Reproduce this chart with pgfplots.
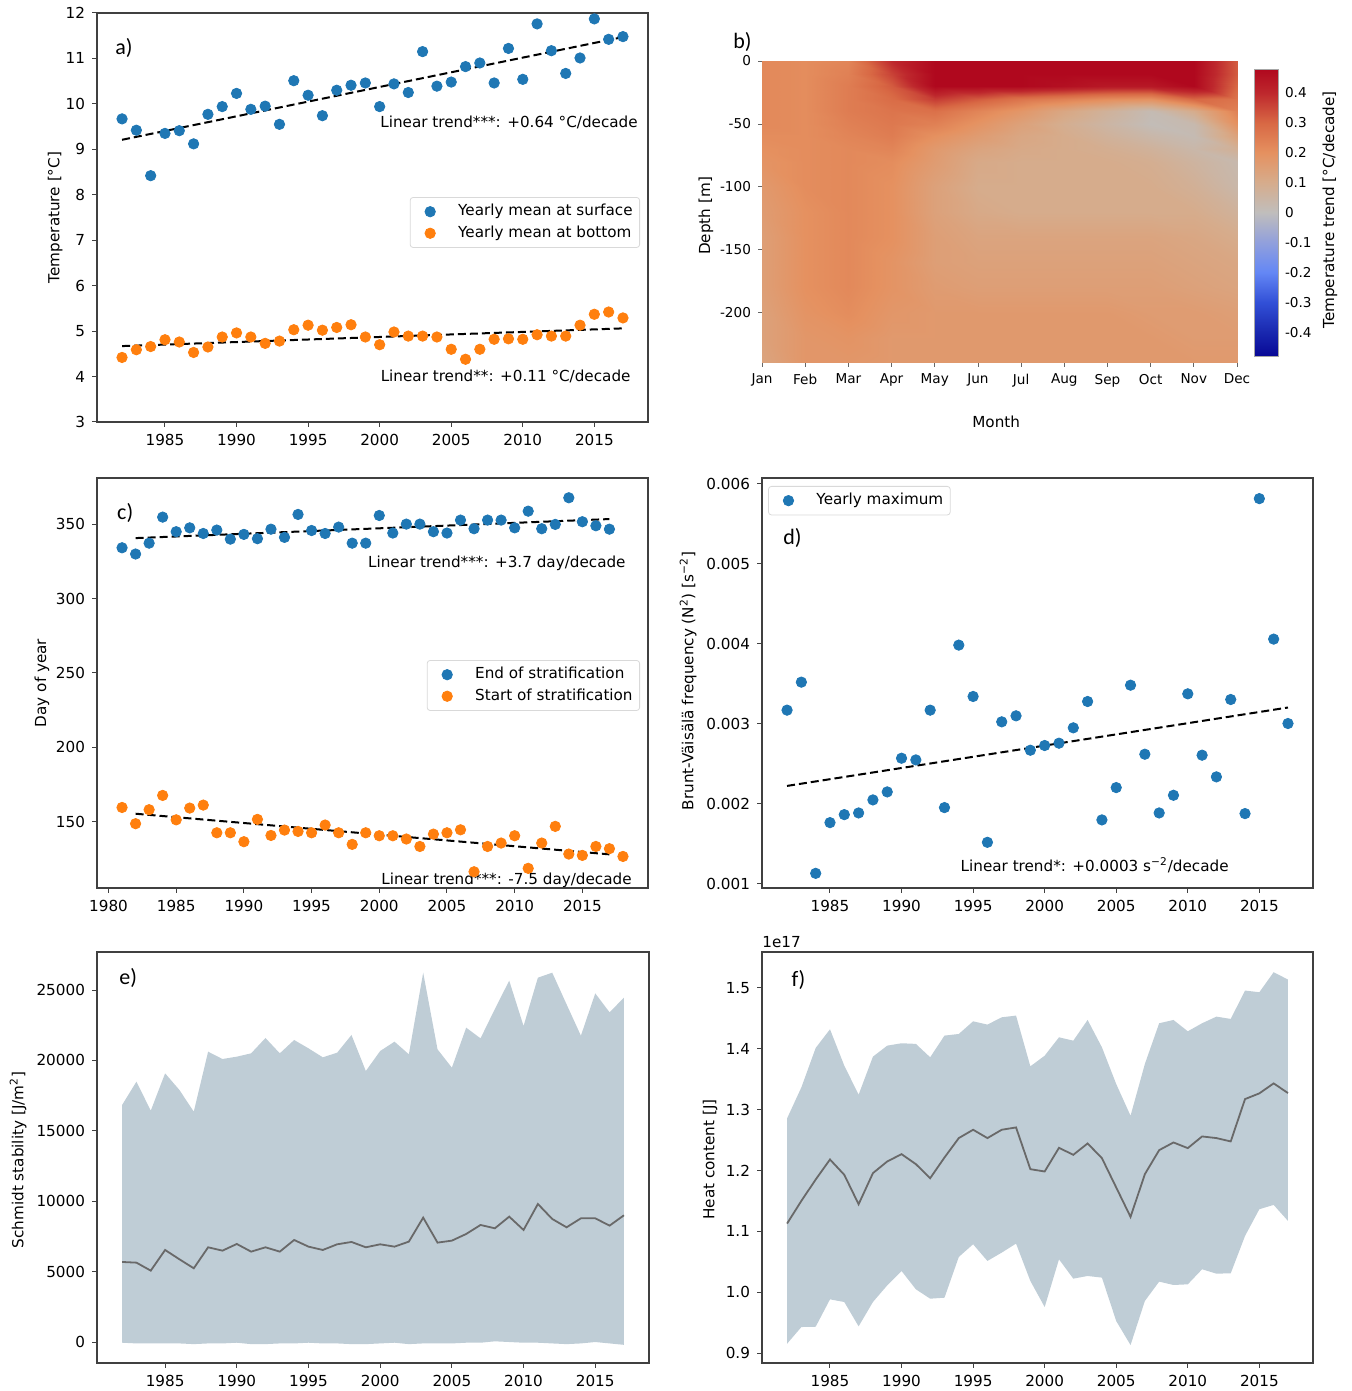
\documentclass[border=0pt]{standalone}
\usepackage{fontspec}
\setmainfont{DejaVu Sans}
\newfontfamily\calib{Carlito}
\usepackage{pgfplots}
\pgfplotsset{compat=1.18}
\usepackage{pgfplotstable}

\newcommand{\fs}{\fontsize{7.6}{9}\selectfont}
\newcommand{\fsb}{\fontsize{6.8}{8}\selectfont}
\newcommand{\pl}{\calib\fontsize{11}{12}\selectfont}

\definecolor{c1}{RGB}{31,119,180}
\definecolor{c2}{RGB}{255,127,14}
\definecolor{bandc}{RGB}{191,205,214}
\definecolor{meanl}{RGB}{105,105,105}

\tikzset{ann/.style={font=\fs, inner sep=0pt}}
\pgfplotsset{
 mpl/.style={
  scale only axis,
  axis line style={black!75, line width=0.6pt},
  tick align=outside, tick pos=left,
  major tick length=2.5pt,
  tick style={black!75, line width=0.5pt},
  ticklabel style={font=\fs},
  label style={font=\fs},
  /pgf/number format/assume math mode=true,
  /pgf/number format/1000 sep={},
  legend style={font=\fs, draw=black!15, rounded corners=1.5pt, inner sep=1.5pt, row sep=-0.5pt, fill=white},
  legend cell align=left,
  xtick={1985,1990,...,2015},
  xmin=1980.25, xmax=2018.75,
 },
 dot/.style={only marks, mark=*, mark size=2.6pt,
   legend image code/.code={\path[draw=none, fill=none] (0pt,0pt) -- (20.5pt,0pt); \draw[##1] plot coordinates {(8.5pt,0pt)};}},
 trend/.style={black, line width=1pt, dash pattern=on 4pt off 2pt, forget plot},
}

\pgfplotstableread{
year surf bot
1982 9.67 4.42
1983 9.42 4.59
1984 8.42 4.66
1985 9.35 4.81
1986 9.41 4.76
1987 9.12 4.53
1988 9.77 4.65
1989 9.94 4.87
1990 10.23 4.96
1991 9.88 4.87
1992 9.95 4.73
1993 9.55 4.78
1994 10.51 5.03
1995 10.19 5.13
1996 9.74 5.02
1997 10.30 5.08
1998 10.41 5.14
1999 10.46 4.87
2000 9.94 4.70
2001 10.44 4.98
2002 10.25 4.89
2003 11.15 4.89
2004 10.39 4.87
2005 10.48 4.60
2006 10.82 4.38
2007 10.90 4.60
2008 10.46 4.82
2009 11.22 4.83
2010 10.54 4.82
2011 11.76 4.92
2012 11.17 4.89
2013 10.67 4.89
2014 11.01 5.13
2015 11.87 5.37
2016 11.42 5.42
2017 11.48 5.29
}\tabA

\pgfplotstableread{
year endS startS
1981 334.1 159.6
1982 329.9 148.7
1983 337.2 158.1
1984 354.7 167.7
1985 344.9 151.3
1986 347.5 159.2
1987 343.7 161.2
1988 346.0 142.6
1989 339.9 142.6
1990 343.1 136.6
1991 340.2 151.6
1992 346.6 140.8
1993 341.1 144.4
1994 356.5 143.5
1995 345.7 142.6
1996 343.7 147.8
1997 348.0 142.6
1998 337.2 134.8
1999 337.2 142.6
2000 355.8 140.6
2001 344.0 140.6
2002 350.0 138.4
2003 350.0 133.4
2004 344.9 141.7
2005 344.0 142.6
2006 352.7 144.6
2007 346.9 116.4
2008 352.7 133.4
2009 352.7 135.7
2010 347.5 140.6
2011 358.7 118.7
2012 346.9 135.7
2013 349.8 146.9
2014 367.7 128.3
2015 351.6 127.4
2016 348.9 133.4
2017 346.6 131.9
2018 nan 126.7
}\tabC

\pgfplotstableread{
year n2
1982 0.003173
1983 0.003523
1984 0.001133
1985 0.001767
1986 0.001867
1987 0.001888
1988 0.002051
1989 0.002151
1990 0.002572
1991 0.002551
1992 0.003173
1993 0.001955
1994 0.003986
1995 0.003344
1996 0.001521
1997 0.003027
1998 0.003102
1999 0.002672
2000 0.002731
2001 0.002760
2002 0.002952
2003 0.003281
2004 0.001801
2005 0.002205
2006 0.003485
2007 0.002622
2008 0.001888
2009 0.002109
2010 0.003377
2011 0.002610
2012 0.002339
2013 0.003306
2014 0.001880
2015 0.005817
2016 0.004061
2017 0.003006
}\tabD

\pgfplotstableread{
year mean
1982 5685
1983 5637
1984 5070
1985 6537
1986 5875
1987 5236
1988 6727
1989 6490
1990 6963
1991 6419
1992 6727
1993 6419
1994 7247
1995 6774
1996 6537
1997 6940
1998 7106
1999 6727
2000 6940
2001 6774
2002 7130
2003 8833
2004 7059
2005 7200
2006 7674
2007 8313
2008 8076
2009 8904
2010 7958
2011 9804
2012 8739
2013 8147
2014 8786
2015 8786
2016 8266
2017 9000
}\tabE

\pgfplotstableread{
year mean
1982 1.1127
1983 1.1500
1984 1.1851
1985 1.2180
1986 1.1928
1987 1.1445
1988 1.1956
1989 1.2148
1990 1.2268
1991 1.2104
1992 1.1873
1993 1.2213
1994 1.2532
1995 1.2669
1996 1.2532
1997 1.2669
1998 1.2707
1999 1.2021
2000 1.1983
2001 1.2372
2002 1.2257
2003 1.2444
2004 1.2202
2005 1.1720
2006 1.1237
2007 1.1939
2008 1.2334
2009 1.2460
2010 1.2367
2011 1.2559
2012 1.2532
2013 1.2477
2014 1.3173
2015 1.3267
2016 1.3431
2017 1.3272
}\tabF

\begin{document}
\begin{tikzpicture}
\path[use as bounding box] (0,0) rectangle (675.5pt,695.5pt);

% ---------------- a) ----------------
\begin{axis}[mpl,
  at={(48.5pt,484.5pt)}, anchor=south west,
  width=275.5pt, height=204.5pt,
  ymin=3, ymax=12, ytick={3,4,...,12},
  ylabel={Temperature [°C]},
  ylabel style={at={(axis description cs:-0.076,0.5)}, anchor=center},
  legend style={at={(0.9855,0.55)}, anchor=north east},
]
\addplot[dot, c1] table[x=year,y=surf]{\tabA};
\addlegendentry{Yearly mean at surface}
\addplot[dot, c2] table[x=year,y=bot]{\tabA};
\addlegendentry{Yearly mean at bottom}
\addplot[trend] coordinates {(1982,9.21) (2017,11.47)};
\addplot[trend] coordinates {(1982,4.67) (2017,5.06)};
\node[ann, anchor=east] at (rel axis cs:0.982,0.7335) {Linear trend***: +0.64 °C/decade};
\node[ann, anchor=east] at (rel axis cs:0.969,0.1125) {Linear trend**: +0.11 °C/decade};
\node[anchor=west, font=\pl, inner sep=0pt] at (rel axis cs:0.0327,0.914) {a)};
\end{axis}

% ---------------- b) ----------------
\begin{axis}[
  at={(381pt,514pt)}, anchor=south west,
  scale only axis, width=237.5pt, height=151pt,
  view={0}{90},
  xmin=0, xmax=11, ymin=-240, ymax=0,
  enlargelimits=false,
  axis line style={draw=none},
  tick align=outside, major tick length=2pt,
  tick style={black!60, line width=0.4pt},
  xtick pos=left, ytick pos=left,
  xtick={0,1,...,11},
  xticklabels={Jan,Feb,Mar,Apr,May,Jun,Jul,Aug,Sep,Oct,Nov,Dec},
  ytick={-200,-150,-100,-50,0},
  ztick=\empty,
  ticklabel style={font=\fsb},
  /pgf/number format/assume math mode=true,
  label style={font=\fs},
  xlabel={Month}, ylabel={Depth [m]},
  xlabel style={at={(axis description cs:0.493,-0.195)}, anchor=center},
  ylabel style={at={(axis description cs:-0.118,0.487)}, anchor=center},
  colormap={trend}{rgb255(0pt)=(8,8,150); rgb255(8pt)=(25,40,175); rgb255(18pt)=(50,80,215); rgb255(28pt)=(100,135,245); rgb255(38pt)=(145,160,220); rgb255(48pt)=(192,190,188); rgb255(58pt)=(214,172,140); rgb255(68pt)=(229,145,96); rgb255(78pt)=(216,104,68); rgb255(88pt)=(190,40,45); rgb255(96pt)=(176,8,30)},
  point meta min=-0.48, point meta max=0.48,
  colorbar,
  colorbar style={
    at={(1.0358,0.9735)}, anchor=north west,
    scale only axis, width=12pt, height=143.5pt,
    ytick={-0.4,-0.3,-0.2,-0.1,0,0.1,0.2,0.3,0.4},
    yticklabels={-0.4,-0.3,-0.2,-0.1,0,0.1,0.2,0.3,0.4},
    yticklabel style={font=\fsb},
    major tick length=0pt,
    axis line style={black!35, line width=0.4pt},
  },
]
\addplot3[surf, shader=interp, mesh/cols=12] coordinates {
(0,0,.22) (1,0,.21) (2,0,.23) (3,0,.40) (4,0,.48) (5,0,.48) (6,0,.48) (7,0,.48) (8,0,.48) (9,0,.48) (10,0,.48) (11,0,.32)
(0,-10,.22) (1,-10,.21) (2,-10,.24) (3,-10,.36) (4,-10,.48) (5,-10,.48) (6,-10,.48) (7,-10,.48) (8,-10,.48) (9,-10,.48) (10,-10,.48) (11,-10,.32)
(0,-20,.22) (1,-20,.21) (2,-20,.25) (3,-20,.32) (4,-20,.48) (5,-20,.48) (6,-20,.48) (7,-20,.46) (8,-20,.44) (9,-20,.44) (10,-20,.48) (11,-20,.30)
(0,-30,.22) (1,-30,.21) (2,-30,.25) (3,-30,.29) (4,-30,.37) (5,-30,.32) (6,-30,.27) (7,-30,.24) (8,-30,.21) (9,-30,.20) (10,-30,.30) (11,-30,.27)
(0,-40,.22) (1,-40,.21) (2,-40,.25) (3,-40,.27) (4,-40,.28) (5,-40,.23) (6,-40,.18) (7,-40,.12) (8,-40,.07) (9,-40,.02) (10,-40,.10) (11,-40,.24)
(0,-50,.22) (1,-50,.21) (2,-50,.24) (3,-50,.26) (4,-50,.24) (5,-50,.19) (6,-50,.14) (7,-50,.09) (8,-50,.05) (9,-50,.01) (10,-50,.03) (11,-50,.20)
(0,-60,.21) (1,-60,.21) (2,-60,.23) (3,-60,.25) (4,-60,.20) (5,-60,.16) (6,-60,.12) (7,-60,.10) (8,-60,.07) (9,-60,.04) (10,-60,.02) (11,-60,.14)
(0,-70,.20) (1,-70,.21) (2,-70,.22) (3,-70,.23) (4,-70,.17) (5,-70,.13) (6,-70,.11) (7,-70,.10) (8,-70,.09) (9,-70,.07) (10,-70,.04) (11,-70,.08)
(0,-80,.19) (1,-80,.21) (2,-80,.22) (3,-80,.21) (4,-80,.16) (5,-80,.11) (6,-80,.10) (7,-80,.10) (8,-80,.10) (9,-80,.09) (10,-80,.06) (11,-80,.03)
(0,-100,.17) (1,-100,.21) (2,-100,.22) (3,-100,.20) (4,-100,.14) (5,-100,.10) (6,-100,.10) (7,-100,.10) (8,-100,.10) (9,-100,.10) (10,-100,.08) (11,-100,.04)
(0,-120,.16) (1,-120,.20) (2,-120,.22) (3,-120,.20) (4,-120,.14) (5,-120,.11) (6,-120,.10) (7,-120,.10) (8,-120,.10) (9,-120,.10) (10,-120,.10) (11,-120,.07)
(0,-140,.15) (1,-140,.20) (2,-140,.22) (3,-140,.20) (4,-140,.15) (5,-140,.13) (6,-140,.13) (7,-140,.13) (8,-140,.13) (9,-140,.13) (10,-140,.12) (11,-140,.10)
(0,-160,.15) (1,-160,.20) (2,-160,.22) (3,-160,.19) (4,-160,.15) (5,-160,.14) (6,-160,.14) (7,-160,.14) (8,-160,.14) (9,-160,.14) (10,-160,.13) (11,-160,.12)
(0,-180,.15) (1,-180,.20) (2,-180,.22) (3,-180,.19) (4,-180,.16) (5,-180,.15) (6,-180,.15) (7,-180,.15) (8,-180,.15) (9,-180,.15) (10,-180,.14) (11,-180,.13)
(0,-200,.14) (1,-200,.19) (2,-200,.21) (3,-200,.18) (4,-200,.17) (5,-200,.17) (6,-200,.17) (7,-200,.17) (8,-200,.17) (9,-200,.16) (10,-200,.16) (11,-200,.15)
(0,-220,.14) (1,-220,.18) (2,-220,.19) (3,-220,.17) (4,-220,.17) (5,-220,.17) (6,-220,.17) (7,-220,.17) (8,-220,.17) (9,-220,.17) (10,-220,.16) (11,-220,.16)
(0,-240,.13) (1,-240,.18) (2,-240,.18) (3,-240,.17) (4,-240,.17) (5,-240,.17) (6,-240,.17) (7,-240,.17) (8,-240,.17) (9,-240,.17) (10,-240,.17) (11,-240,.17)
};
\end{axis}
\node[anchor=west, font=\pl, inner sep=0pt] at (366.5pt,674.5pt) {b)};
\node[rotate=90, font=\fs] at (665pt,590.5pt) {Temperature trend [°C/decade]};

% ---------------- c) ----------------
\begin{axis}[mpl,
  at={(48.5pt,251.5pt)}, anchor=south west,
  width=275.5pt, height=205pt,
  xmin=1979.15, xmax=2019.85, xtick={1980,1985,...,2015},
  ymin=105.5, ymax=381, ytick={150,200,250,300,350},
  ylabel={Day of year},
  ylabel style={at={(axis description cs:-0.0998,0.5)}, anchor=center},
  legend style={at={(0.9855,0.556)}, anchor=north east},
]
\addplot[dot, c1] table[x=year,y=endS]{\tabC};
\addlegendentry{End of stratification}
\addplot[dot, c2] table[x=year,y=startS]{\tabC};
\addlegendentry{Start of stratification}
\addplot[trend] coordinates {(1982,340.6) (2017,353.4)};
\addplot[trend] coordinates {(1982,155.4) (2017,128.1)};
\node[ann, anchor=east] at (rel axis cs:0.960,0.7927) {Linear trend***: +3.7 day/decade};
\node[ann, anchor=east] at (rel axis cs:0.971,0.0195) {Linear trend***: -7.5 day/decade};
\node[anchor=west, font=\pl, inner sep=0pt] at (rel axis cs:0.036,0.915) {c)};
\end{axis}

% ---------------- d) ----------------
\begin{axis}[mpl,
  at={(381pt,251.5pt)}, anchor=south west,
  width=275.5pt, height=205pt,
  ymin=0.00095, ymax=0.006075,
  ytick={0.001,0.002,0.003,0.004,0.005,0.006},
  scaled y ticks=false,
  yticklabel style={/pgf/number format/fixed, /pgf/number format/fixed zerofill, /pgf/number format/precision=3},
  ylabel={Brunt-Väisälä frequency (N\textsuperscript{2}) [s\textsuperscript{−2}]},
  ylabel style={at={(axis description cs:-0.134,0.505)}, anchor=center},
  legend style={at={(0.011,0.9805)}, anchor=north west},
]
\addplot[dot, c1] table[x=year,y=n2]{\tabD};
\addlegendentry{Yearly maximum}
\addplot[trend] coordinates {(1982,0.002226) (2017,0.003206)};
\node[ann, anchor=east] at (rel axis cs:0.8475,0.056) {Linear trend*: +0.0003 s\textsuperscript{−2}/decade};
\node[anchor=west, font=\pl, inner sep=0pt] at (rel axis cs:0.038,0.854) {d)};
\end{axis}

% ---------------- e) ----------------
\begin{axis}[mpl,
  at={(48.5pt,14pt)}, anchor=south west,
  width=276pt, height=205.5pt,
  ymin=-1490, ymax=27700,
  ytick={0,5000,10000,15000,20000,25000},
  scaled y ticks=false,
  ylabel={Schmidt stability [J/m\textsuperscript{2}]},
  ylabel style={at={(axis description cs:-0.143,0.494)}, anchor=center},
]
\addplot[fill=bandc, draw=none, forget plot] coordinates {
(1982,16833) (1983,18491) (1984,16431) (1985,19082) (1986,17899) (1987,16360) (1988,20621) (1989,20100) (1990,20266) (1991,20503) (1992,21592) (1993,20503) (1994,21450) (1995,20858) (1996,20219) (1997,20550) (1998,21805) (1999,19248) (2000,20668) (2001,21331) (2002,20432) (2003,26231) (2004,20787) (2005,19485) (2006,22325) (2007,21568) (2008,23651) (2009,25663) (2010,22444) (2011,25876) (2012,26231) (2013,23982) (2014,21757) (2015,24763) (2016,23414) (2017,24456)
(2017,-200) (2016,-100) (2015,0) (2014,-100) (2013,-150) (2012,-100) (2011,-50) (2010,-50) (2009,0) (2008,50) (2007,-50) (2006,-50) (2005,-100) (2004,-100) (2003,-100) (2002,-150) (2001,-50) (2000,-100) (1999,-150) (1998,-150) (1997,-100) (1996,-100) (1995,-50) (1994,-100) (1993,-100) (1992,-150) (1991,-150) (1990,-50) (1989,-100) (1988,-100) (1987,-150) (1986,-100) (1985,-100) (1984,-100) (1983,-100) (1982,-50)
} -- cycle;
\addplot[meanl, line width=0.9pt] table[x=year,y=mean]{\tabE};
\node[anchor=west, font=\pl, inner sep=0pt] at (rel axis cs:0.040,0.937) {e)};
\end{axis}

% ---------------- f) ----------------
\begin{axis}[mpl,
  at={(381pt,14pt)}, anchor=south west,
  width=275.5pt, height=205.5pt,
  ymin=0.8836, ymax=1.559,
  ytick={0.9,1.0,1.1,1.2,1.3,1.4,1.5},
  scaled y ticks=false,
  yticklabel style={/pgf/number format/fixed, /pgf/number format/fixed zerofill, /pgf/number format/precision=1},
  ylabel={Heat content [J]},
  ylabel style={at={(axis description cs:-0.094,0.495)}, anchor=center},
]
\addplot[fill=bandc, draw=none, forget plot] coordinates {
(1982,1.2855) (1983,1.3365) (1984,1.4013) (1985,1.4320) (1986,1.3722) (1987,1.3245) (1988,1.3870) (1989,1.4051) (1990,1.4090) (1991,1.4080) (1992,1.3860) (1993,1.4216) (1994,1.4243) (1995,1.4451) (1996,1.4397) (1997,1.4517) (1998,1.4545) (1999,1.3711) (2000,1.3886) (2001,1.4188) (2002,1.4133) (2003,1.4473) (2004,1.4024) (2005,1.3420) (2006,1.2899) (2007,1.3749) (2008,1.4419) (2009,1.4473) (2010,1.4287) (2011,1.4419) (2012,1.4528) (2013,1.4490) (2014,1.4956) (2015,1.4929) (2016,1.5258) (2017,1.5137)
(2017,1.1171) (2016,1.1434) (2015,1.1363) (2014,1.0924) (2013,1.0310) (2012,1.0304) (2011,1.0376) (2010,1.0129) (2009,1.0118) (2008,1.0173) (2007,0.9855) (2006,0.9131) (2005,0.9525) (2004,1.0239) (2003,1.0266) (2002,1.0222) (2001,1.0540) (2000,0.9756) (1999,1.0184) (1998,1.0798) (1997,1.0650) (1996,1.0513) (1995,1.0787) (1994,1.0579) (1993,0.9909) (1992,0.9893) (1991,1.0047) (1990,1.0348) (1989,1.0112) (1988,0.9838) (1987,0.9438) (1986,0.9838) (1985,0.9882) (1984,0.9432) (1983,0.9427) (1982,0.9152)
} -- cycle;
\addplot[meanl, line width=0.9pt] table[x=year,y=mean]{\tabF};
\node[anchor=west, font=\pl, inner sep=0pt] at (rel axis cs:0.053,0.932) {f)};
\end{axis}
\node[anchor=west, font=\fs, inner sep=0pt] at (381pt,224.5pt) {1e17};

\end{tikzpicture}
\end{document}
